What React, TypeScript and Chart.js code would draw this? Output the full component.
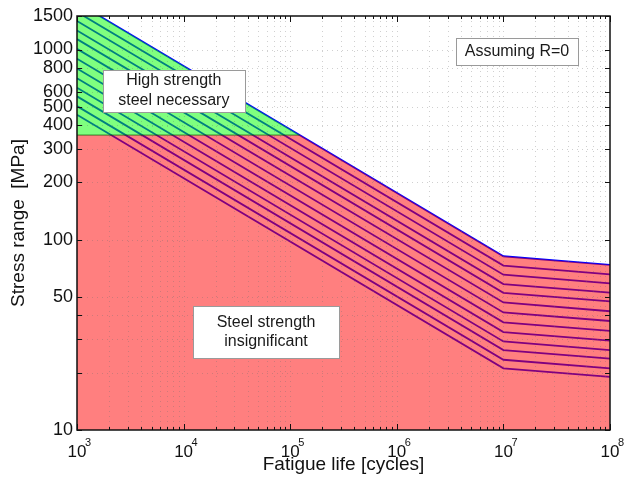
import React, { useEffect, useRef } from "react";
import { Chart, registerables } from "chart.js";

Chart.register(...registerables);

// ---- data ----
const fatClasses = [140, 125, 112, 100, 90, 80, 71, 63, 56, 50, 45, 40, 36];
const lineCycles = [1e3, 1e7, 1e8];
const stressAt1e3 = [1764, 1575, 1411, 1260, 1134, 1008, 894, 794, 706, 630, 567, 504, 454];
const stressAt1e7 = [81.9, 73.1, 65.5, 58.5, 52.6, 46.8, 41.5, 36.8, 32.7, 29.2, 26.3, 23.4, 21.1];
const stressAt1e8 = [73.7, 65.8, 59.0, 52.7, 47.4, 42.1, 37.4, 33.2, 29.5, 26.3, 23.7, 21.1, 19.0];

const yieldStress = 355;
const yieldCrossCycles = 1.227e5;
const envelopeCycles = [1e3, yieldCrossCycles, 1e7, 1e8];
const envelopeStress = [yieldStress, yieldStress, 81.9, 73.7];
const highCycles = [1e3, yieldCrossCycles];
const highStress = [1764, yieldStress];

const xTickValues = [
  1e3, 2e3, 3e3, 4e3, 5e3, 6e3, 7e3, 8e3, 9e3,
  1e4, 2e4, 3e4, 4e4, 5e4, 6e4, 7e4, 8e4, 9e4,
  1e5, 2e5, 3e5, 4e5, 5e5, 6e5, 7e5, 8e5, 9e5,
  1e6, 2e6, 3e6, 4e6, 5e6, 6e6, 7e6, 8e6, 9e6,
  1e7, 2e7, 3e7, 4e7, 5e7, 6e7, 7e7, 8e7, 9e7,
  1e8,
];
const xDecades = [1e3, 1e4, 1e5, 1e6, 1e7, 1e8];
const yTickValues = [10, 20, 30, 40, 50, 100, 200, 300, 400, 500, 600, 800, 1000, 1500];
const yLabeled = [10, 50, 100, 200, 300, 400, 500, 600, 800, 1000, 1500];

const noteTexts = [["High strength", "steel necessary"], ["Assuming R=0"], ["Steel strength", "insignificant"]];
const noteCenters = [
  { x: 8.1e3, y: 608 },
  { x: 1.34e7, y: 971 },
  { x: 5.93e4, y: 32.8 },
];
const noteSizes = [
  { w: 142, h: 42 },
  { w: 122, h: 27 },
  { w: 146, h: 52 },
];

const FONT = '"Liberation Sans", Arial, sans-serif';

const axesPlugin = {
  id: "matlabAxes",
  afterDatasetsDraw(chart: any) {
    const { ctx, chartArea: a } = chart;
    const x = chart.scales.x;
    const y = chart.scales.y;
    ctx.save();
    // dotted grid
    ctx.strokeStyle = "rgba(110,110,110,0.32)";
    ctx.lineWidth = 1;
    ctx.setLineDash([1, 4]);
    x.ticks.forEach((t: any) => {
      const px = Math.round(x.getPixelForValue(t.value)) + 0.5;
      if (px <= a.left + 1 || px >= a.right - 1) return;
      ctx.beginPath();
      ctx.moveTo(px, a.top);
      ctx.lineTo(px, a.bottom);
      ctx.stroke();
    });
    y.ticks.forEach((t: any) => {
      const py = Math.round(y.getPixelForValue(t.value)) + 0.5;
      if (py <= a.top + 1 || py >= a.bottom - 1) return;
      ctx.beginPath();
      ctx.moveTo(a.left, py);
      ctx.lineTo(a.right, py);
      ctx.stroke();
    });
    ctx.setLineDash([]);
    // inward tick marks
    ctx.strokeStyle = "#111";
    ctx.lineWidth = 1;
    x.ticks.forEach((t: any) => {
      const px = Math.round(x.getPixelForValue(t.value)) + 0.5;
      const len = xDecades.includes(t.value) ? 6 : 3;
      ctx.beginPath();
      ctx.moveTo(px, a.bottom);
      ctx.lineTo(px, a.bottom - len);
      ctx.moveTo(px, a.top);
      ctx.lineTo(px, a.top + len);
      ctx.stroke();
    });
    y.ticks.forEach((t: any) => {
      const py = Math.round(y.getPixelForValue(t.value)) + 0.5;
      const len = 5;
      ctx.beginPath();
      ctx.moveTo(a.left, py);
      ctx.lineTo(a.left + len, py);
      ctx.moveTo(a.right, py);
      ctx.lineTo(a.right - len, py);
      ctx.stroke();
    });
    // frame
    ctx.lineWidth = 1.5;
    ctx.strokeStyle = "#111";
    ctx.strokeRect(a.left, a.top, a.right - a.left, a.bottom - a.top);
    ctx.restore();
  },
  afterDraw(chart: any) {
    const { ctx, chartArea: a } = chart;
    const x = chart.scales.x;
    const y = chart.scales.y;
    ctx.save();
    // x tick labels 10^n
    ctx.fillStyle = "#111";
    xDecades.forEach((v) => {
      const px = x.getPixelForValue(v);
      const exp = String(Math.round(Math.log10(v)));
      ctx.font = `17px ${FONT}`;
      ctx.textAlign = "center";
      ctx.textBaseline = "alphabetic";
      ctx.fillText("10", px, a.bottom + 27);
      ctx.font = `11px ${FONT}`;
      ctx.textAlign = "left";
      ctx.fillText(exp, px + 8, a.bottom + 16);
    });
    // annotation boxes
    noteTexts.forEach((lines, i) => {
      const cx = x.getPixelForValue(noteCenters[i].x);
      const cy = y.getPixelForValue(noteCenters[i].y);
      const { w, h } = noteSizes[i];
      const left = Math.round(cx - w / 2) + 0.5;
      const top = Math.round(cy - h / 2) + 0.5;
      ctx.fillStyle = "#ffffff";
      ctx.fillRect(left, top, w, h);
      ctx.strokeStyle = "#9a9a9a";
      ctx.lineWidth = 1;
      ctx.strokeRect(left, top, w, h);
      ctx.fillStyle = "#1a1a1a";
      ctx.font = `16px ${FONT}`;
      ctx.textAlign = "center";
      ctx.textBaseline = "middle";
      const lh = 19.5;
      lines.forEach((ln, j) => {
        ctx.fillText(ln, cx, cy + (j - (lines.length - 1) / 2) * lh);
      });
    });
    ctx.restore();
  },
};

export default function App() {
  const canvasRef = useRef<HTMLCanvasElement | null>(null);

  useEffect(() => {
    document.body.style.margin = "0";
    const lineSets = fatClasses.map((fat, i) => ({
      label: `FAT ${fat}`,
      data: lineCycles.map((n, k) => ({ x: n, y: [stressAt1e3[i], stressAt1e7[i], stressAt1e8[i]][k] })),
      borderColor: "rgb(0,0,255)",
      borderWidth: 1.8,
      pointRadius: 0,
      fill: false,
      order: 3,
    }));
    const datasets: any[] = [
      ...lineSets,
      {
        label: "insignificant",
        data: envelopeCycles.map((n, k) => ({ x: n, y: envelopeStress[k] })),
        borderWidth: 0,
        borderColor: "rgba(0,0,0,0)",
        backgroundColor: "rgba(255,0,0,0.5)",
        pointRadius: 0,
        fill: "start",
        order: 2,
      },
      {
        label: "high strength",
        data: highCycles.map((n, k) => ({ x: n, y: highStress[k] })),
        borderWidth: 0,
        borderColor: "rgba(0,0,0,0)",
        backgroundColor: "rgba(0,255,0,0.5)",
        pointRadius: 0,
        fill: { value: yieldStress },
        order: 2,
      },
      {
        label: "yield",
        data: highCycles.map((n) => ({ x: n, y: yieldStress })),
        borderWidth: 1,
        borderColor: "rgba(0,90,0,0.7)",
        pointRadius: 0,
        fill: false,
        order: 1,
      },
    ];

    const chart = new Chart(canvasRef.current as HTMLCanvasElement, {
      type: "line",
      data: { datasets },
      plugins: [axesPlugin as any],
      options: {
        animation: false,
        responsive: false,
        devicePixelRatio: 1,
        layout: { padding: { top: 16, right: 15, left: 0, bottom: 0 } },
        plugins: { legend: { display: false }, tooltip: { enabled: false } },
        scales: {
          x: {
            type: "logarithmic",
            min: 1e3,
            max: 1e8,
            afterBuildTicks: (s: any) => {
              s.ticks = xTickValues.map((v) => ({ value: v }));
            },
            afterFit: (s: any) => {
              s.height = 53;
            },
            grid: { display: false, drawTicks: false },
            border: { display: false },
            ticks: { display: false, autoSkip: false },
            title: {
              display: true,
              text: "Fatigue life [cycles]",
              color: "#111",
              font: { family: FONT, size: 19 },
              padding: { top: 0, bottom: 7 },
            },
          },
          y: {
            type: "logarithmic",
            min: 10,
            max: 1500,
            afterBuildTicks: (s: any) => {
              s.ticks = yTickValues.map((v) => ({ value: v }));
            },
            afterFit: (s: any) => {
              s.width = 77;
            },
            grid: { display: false, drawTicks: false },
            border: { display: false },
            ticks: {
              autoSkip: false,
              padding: 4,
              color: "#111",
              font: { family: FONT, size: 18 },
              callback: (v: any) => (yLabeled.includes(Number(v)) ? String(v) : ""),
            },
            title: {
              display: true,
              text: "Stress range  [MPa]",
              color: "#111",
              font: { family: FONT, size: 19 },
              padding: { top: 7, bottom: 0 },
            },
          },
        },
      },
    } as any);
    return () => chart.destroy();
  }, []);

  return (
    <div style={{ width: 625, height: 483 }}>
      <canvas ref={canvasRef} width={625} height={483} style={{ display: "block" }} />
    </div>
  );
}
